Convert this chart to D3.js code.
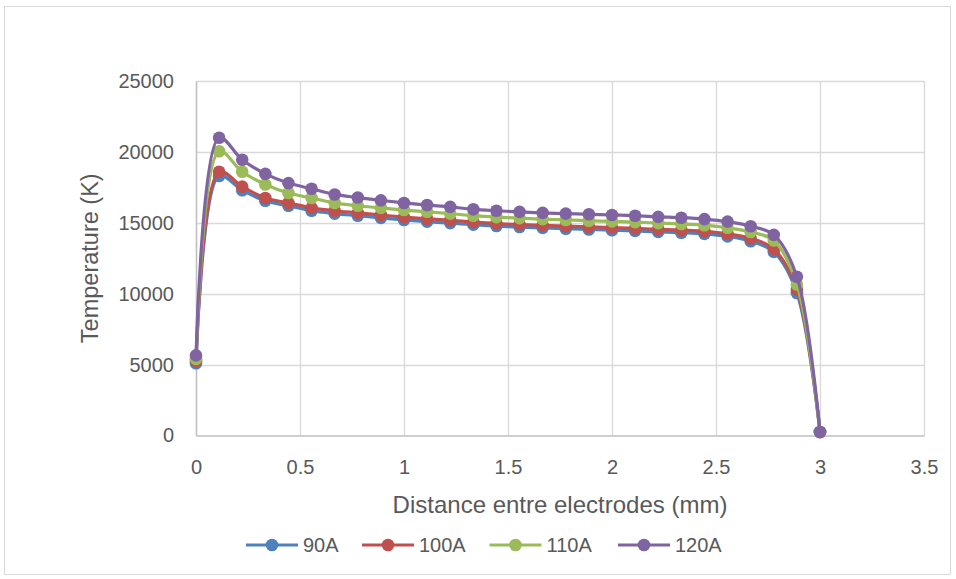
<!DOCTYPE html>
<html>
<head>
<meta charset="utf-8">
<script src="https://cdn.jsdelivr.net/npm/d3@7"></script>
<style>
  html, body { margin: 0; padding: 0; background: #ffffff; }
  svg { display: block; }
</style>
</head>
<body>
<script>
// ---- data ----
const distance = [0, 0.1111, 0.2222, 0.3333, 0.4444, 0.5556, 0.6667, 0.7778, 0.8889, 1.0,
  1.1111, 1.2222, 1.3333, 1.4444, 1.5556, 1.6667, 1.7778, 1.8889, 2.0, 2.1111,
  2.2222, 2.3333, 2.4444, 2.5556, 2.6667, 2.7778, 2.8889, 3.0];
const t90A = [5100, 18300, 17300, 16550, 16200, 15850, 15650, 15500, 15350, 15200,
  15080, 14980, 14870, 14770, 14700, 14640, 14580, 14530, 14480, 14430,
  14360, 14300, 14220, 14040, 13700, 12950, 10050, 250];
const t100A = [5250, 18600, 17550, 16750, 16400, 16050, 15850, 15700, 15550, 15400,
  15280, 15180, 15050, 14950, 14880, 14820, 14760, 14710, 14660, 14610,
  14540, 14480, 14400, 14220, 13900, 13150, 10300, 250];
const t110A = [5400, 20050, 18600, 17700, 17100, 16750, 16400, 16200, 16050, 15900,
  15780, 15650, 15500, 15400, 15330, 15260, 15200, 15150, 15100, 15050,
  14980, 14920, 14830, 14650, 14350, 13750, 10650, 250];
const t120A = [5650, 21000, 19450, 18450, 17800, 17400, 17000, 16780, 16580, 16400,
  16250, 16120, 15950, 15850, 15770, 15700, 15650, 15600, 15550, 15500,
  15420, 15360, 15260, 15080, 14760, 14150, 11200, 250];
const seriesNames = ["90A", "100A", "110A", "120A"];
const seriesValues = [t90A, t100A, t110A, t120A];
const seriesColors = ["#4F81BD", "#C0504D", "#9BBB59", "#8064A2"];
const xTicks = [0, 0.5, 1, 1.5, 2, 2.5, 3, 3.5];
const yTicks = [0, 5000, 10000, 15000, 20000, 25000];
const xTitle = "Distance entre electrodes (mm)";
const yTitle = "Temperature (K)";

// ---- layout ----
const W = 956, H = 579;
const plot = { left: 196, right: 924, top: 81, bottom: 435.5 };
const FONT = "'Liberation Sans', Arial, sans-serif";
const textColor = "#595959";

const svg = d3.select("body").append("svg").attr("width", W).attr("height", H);
svg.append("rect").attr("width", W).attr("height", H).attr("fill", "#fff");
svg.append("rect").attr("x", 4.5).attr("y", 6.5).attr("width", 946).attr("height", 568)
  .attr("fill", "none").attr("stroke", "#d9d9d9").attr("stroke-width", 1);

const x = d3.scaleLinear().domain([0, 3.5]).range([plot.left, plot.right]);
const y = d3.scaleLinear().domain([0, 25000]).range([plot.bottom, plot.top]);

// gridlines
const grid = svg.append("g");
grid.selectAll("line.h").data(yTicks.filter(d => d > 0)).enter().append("line")
  .attr("x1", plot.left).attr("x2", plot.right)
  .attr("y1", d => Math.round(y(d)) + 0.5).attr("y2", d => Math.round(y(d)) + 0.5)
  .attr("stroke", "#d9d9d9").attr("stroke-width", 1.3);
grid.selectAll("line.v").data(xTicks.filter(d => d > 0)).enter().append("line")
  .attr("y1", plot.top).attr("y2", plot.bottom)
  .attr("x1", d => Math.round(x(d)) + 0.5).attr("x2", d => Math.round(x(d)) + 0.5)
  .attr("stroke", "#d9d9d9").attr("stroke-width", 1.3);

// axes
const xAxis = d3.axisBottom(x).tickValues(xTicks).tickSize(0).tickPadding(24)
  .tickFormat(d => String(d));
const yAxis = d3.axisLeft(y).tickValues(yTicks).tickSize(0).tickPadding(22)
  .tickFormat(d => String(d));
const gx = svg.append("g").attr("transform", `translate(0,${plot.bottom})`).call(xAxis);
const gy = svg.append("g").attr("transform", `translate(${plot.left},0)`).call(yAxis);
[gx, gy].forEach(g => {
  g.select(".domain").attr("stroke", "#bfbfbf").attr("stroke-width", 1.6);
  g.selectAll("text").attr("fill", textColor).style("font-family", FONT).style("font-size", "20px");
});

// titles
svg.append("text").attr("x", (plot.left + plot.right) / 2).attr("y", 504)
  .attr("text-anchor", "middle").attr("dominant-baseline", "central")
  .attr("fill", textColor).style("font-family", FONT).style("font-size", "24px").text(xTitle);
svg.append("text").attr("transform", `translate(90,${(plot.top + plot.bottom) / 2}) rotate(-90)`)
  .attr("text-anchor", "middle").attr("dominant-baseline", "central")
  .attr("fill", textColor).style("font-family", FONT).style("font-size", "23.5px").text(yTitle);

// series
const line = d3.line()
  .x((d, i) => x(distance[i]))
  .y(d => y(d))
  .curve(d3.curveCatmullRom.alpha(0.5));
seriesValues.forEach((vals, s) => {
  const g = svg.append("g");
  g.append("path").datum(vals).attr("d", line)
    .attr("fill", "none").attr("stroke", seriesColors[s]).attr("stroke-width", 3.2)
    .attr("stroke-linejoin", "round").attr("stroke-linecap", "round");
  g.selectAll("circle").data(vals).enter().append("circle")
    .attr("cx", (d, i) => x(distance[i])).attr("cy", d => y(d)).attr("r", 6.3)
    .attr("fill", seriesColors[s]);
});

// legend
const legendX = [246, 362, 489.5, 618];
const legendY = 545;
const lg = svg.append("g");
seriesNames.forEach((name, s) => {
  const g = lg.append("g").attr("transform", `translate(${legendX[s]},${legendY})`);
  g.append("line").attr("x1", 0).attr("x2", 52).attr("y1", 0).attr("y2", 0)
    .attr("stroke", seriesColors[s]).attr("stroke-width", 3.2);
  g.append("circle").attr("cx", 26).attr("cy", 0).attr("r", 6.3).attr("fill", seriesColors[s]);
  g.append("text").attr("x", 57).attr("y", 0).attr("dominant-baseline", "central")
    .attr("fill", textColor).style("font-family", FONT).style("font-size", "20px").text(name);
});
</script>
</body>
</html>
